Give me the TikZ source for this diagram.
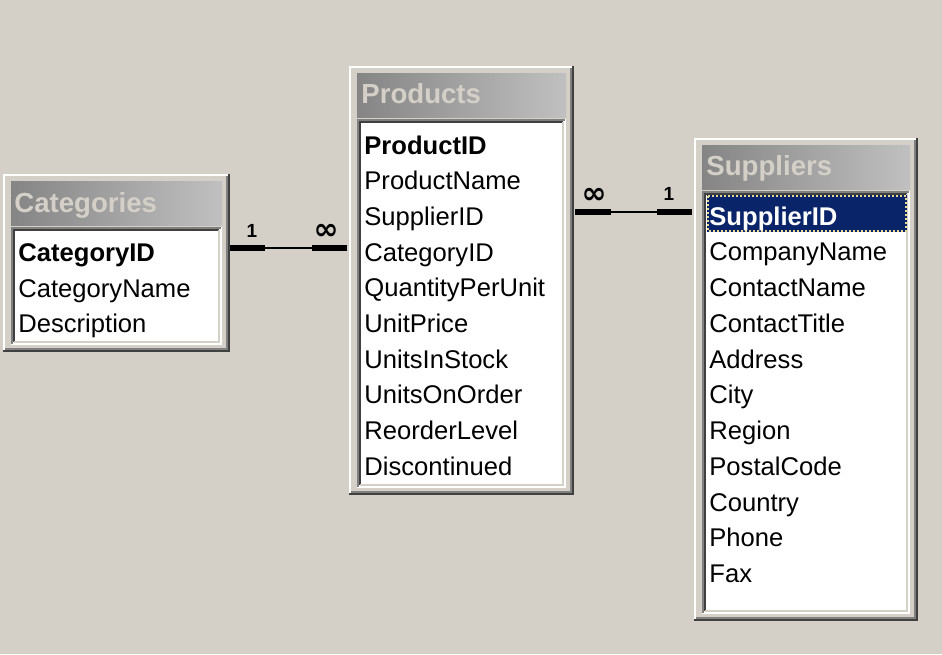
\documentclass[tikz,border=0pt]{standalone}
\usepackage{fontspec}
\setmainfont{Liberation Sans}
\newfontfamily\symfont{DejaVu Sans}
\definecolor{winface}{HTML}{D4D0C8}
\definecolor{capdark}{HTML}{858585}
\definecolor{caplight}{HTML}{C0C0C0}
\definecolor{shadowdk}{HTML}{404040}
\definecolor{shadowmd}{HTML}{808080}
\definecolor{selnavy}{HTML}{0A246A}
\definecolor{focusdot}{HTML}{E8D890}
\begin{document}
\begin{tikzpicture}[x=0.5pt,y=-0.5pt,
  field/.style={anchor=base west,inner sep=0pt,font=\fontsize{12.8}{14}\selectfont},
  keyfield/.style={field,font=\fontsize{12.8}{14}\selectfont\bfseries},
  tabtitle/.style={anchor=base west,inner sep=0pt,text=winface,font=\fontsize{13.8}{15}\selectfont\bfseries},
  card/.style={inner sep=0pt,font=\fontsize{9.5}{10}\selectfont\bfseries},
  manycard/.style={inner sep=0pt,font=\symfont\fontsize{15}{16}\selectfont\bfseries},
  relbar/.style={line width=3.25pt},
  relline/.style={line width=0.9pt}]
\useasboundingbox (0,0) rectangle (942,654);
\fill[winface] (0,0) rectangle (942,654);
% table frames
\foreach \xa/\ya/\xb/\yb in {3/174/230/352, 349/66/574/495, 694/138/918/621} {
  \draw[white,line width=1pt] ({\xa+1},{\yb-1}) -- ({\xa+1},{\ya+1}) -- ({\xb-1},{\ya+1});
  \draw[shadowdk,line width=1pt] ({\xa},{\yb-1}) -- ({\xb-1},{\yb-1}) -- ({\xb-1},{\ya});
  \draw[shadowmd,line width=1pt] ({\xa+2},{\yb-3}) -- ({\xb-3},{\yb-3}) -- ({\xb-3},{\ya+2});
  \shade[left color=capdark,right color=caplight] ({\xa+8},{\ya+7}) rectangle ({\xb-8},{\ya+51});
  \fill[white] ({\xa+8},{\ya+53}) rectangle ({\xb-8},{\yb-7});
  \draw[shadowmd,line width=1pt] ({\xa+9},{\yb-8}) -- ({\xa+9},{\ya+54}) -- ({\xb-9},{\ya+54});
  \draw[shadowdk,line width=1pt] ({\xa+11},{\yb-10}) -- ({\xa+11},{\ya+56}) -- ({\xb-11},{\ya+56});
  \draw[winface,line width=1pt] ({\xa+11},{\yb-10}) -- ({\xb-11},{\yb-10}) -- ({\xb-11},{\ya+56});
}
% titles
\node[tabtitle] (cattitle) at (14,212) {Categories};
\node[tabtitle] (prodtitle) at (361,103) {Products};
\node[tabtitle] (suptitle) at (706,175) {Suppliers};
% fields
\node[keyfield] (cat1) at (18,261.5) {CategoryID};
\foreach \t [count=\i from 2] in {CategoryName,Description}
  \node[field] (cat\i) at (18,{261.5+35.7*(\i-1)}) {\t};
\node[keyfield] (prod1) at (364,154) {ProductID};
\foreach \t [count=\i from 2] in {ProductName,SupplierID,CategoryID,QuantityPerUnit,UnitPrice,UnitsInStock,UnitsOnOrder,ReorderLevel,Discontinued}
  \node[field] (prod\i) at (364,{154+35.7*(\i-1)}) {\t};
\fill[selnavy] (707,195) rectangle (907,232);
\draw[focusdot,densely dotted,line width=1pt] (708,196) rectangle (906,231);
\node[keyfield,text=white] (sup1) at (709,225) {SupplierID};
\foreach \t [count=\i from 2] in {CompanyName,ContactName,ContactTitle,Address,City,Region,PostalCode,Country,Phone,Fax}
  \node[field] (sup\i) at (709,{225+35.75*(\i-1)}) {\t};
% relationships
\coordinate (catE) at (230,248);
\coordinate (prodW) at (347,248);
\coordinate (prodE) at (575,212);
\coordinate (supW) at (692,212);
\draw[relline] (catE) -- (prodW);
\draw[relbar] (catE) -- ++(35,0);
\draw[relbar] (prodW) -- ++(-35,0);
\node[card] (one1) at (252,231) {1};
\node[manycard] (many1) at (326,232) {∞};
\draw[relline] (prodE) -- (supW);
\draw[relbar] (prodE) -- ++(36,0);
\draw[relbar] (supW) -- ++(-35,0);
\node[manycard] (many2) at (594,196) {∞};
\node[card] (one2) at (669,194) {1};
\end{tikzpicture}
\end{document}
